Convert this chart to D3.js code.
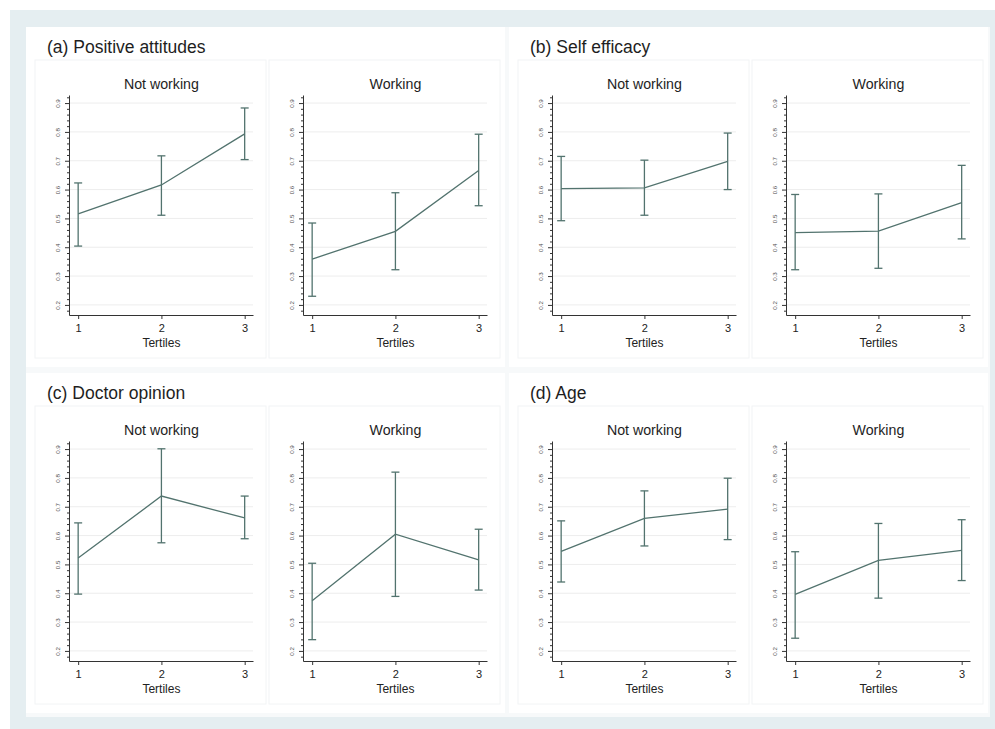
<!DOCTYPE html>
<html>
<head>
<meta charset="utf-8">
<script src="https://cdn.jsdelivr.net/npm/d3@7"></script>
<style>
  html, body { margin: 0; padding: 0; background: #ffffff; }
  svg { display: block; font-family: "Liberation Sans", Arial, Helvetica, sans-serif; }
</style>
</head>
<body>
<svg id="chart" width="995" height="729"></svg>
<script>
// ---------------- data ----------------
const panelTitles = ["(a) Positive attitudes", "(b) Self efficacy", "(c) Doctor opinion", "(d) Age"];
const groupTitles = ["Not working", "Working"];
const tertiles = [1, 2, 3];
const yTickValues = [0.2, 0.3, 0.4, 0.5, 0.6, 0.7, 0.8, 0.9];
const xAxisTitle = "Tertiles";

// per panel (a,b,c,d): values for tertiles 1,2,3
const meanNotWorking  = [[0.516, 0.616, 0.793], [0.603, 0.606, 0.698], [0.522, 0.737, 0.661], [0.545, 0.660, 0.692]];
const lowerNotWorking = [[0.404, 0.511, 0.704], [0.492, 0.511, 0.600], [0.397, 0.575, 0.589], [0.439, 0.564, 0.586]];
const upperNotWorking = [[0.623, 0.717, 0.883], [0.715, 0.702, 0.796], [0.644, 0.901, 0.737], [0.651, 0.755, 0.799]];

const meanWorking  = [[0.359, 0.455, 0.666], [0.451, 0.456, 0.555], [0.374, 0.605, 0.516], [0.396, 0.514, 0.549]];
const lowerWorking = [[0.230, 0.322, 0.544], [0.322, 0.327, 0.429], [0.239, 0.389, 0.411], [0.244, 0.383, 0.444]];
const upperWorking = [[0.484, 0.589, 0.792], [0.583, 0.585, 0.684], [0.504, 0.820, 0.622], [0.544, 0.642, 0.655]];

// ---------------- drawing ----------------
const svg = d3.select("#chart");
const lineColor = "#52736e";
const axisColor = "#333333";
const gridColor = "#ededed";

// outer backgrounds
svg.append("rect").attr("x", 10).attr("y", 10).attr("width", 985).attr("height", 719).attr("fill", "#e5eef1");
svg.append("rect").attr("x", 26).attr("y", 27).attr("width", 964).attr("height", 690).attr("fill", "#f7f9fa");

const minorTicks = d3.range(18, 93, 2).map(v => v / 100).filter(v => Math.round(v * 100) % 10 !== 0);

panelTitles.forEach((title, p) => {
  const col = p % 2, row = Math.floor(p / 2);
  const dx = col * 483, dy = row * 346;

  // panel box
  svg.append("rect").attr("x", 26 + dx).attr("y", 27 + dy).attr("width", 479).attr("height", 340)
    .attr("fill", "#ffffff");

  svg.append("text").attr("x", 47 + dx).attr("y", 53 + dy)
    .attr("font-size", 17.5).attr("fill", "#1e1e1e").text(title);

  groupTitles.forEach((gt, g) => {
    const axisX = 69 + dx + g * 234;
    const means = g === 0 ? meanNotWorking[p] : meanWorking[p];
    const lows = g === 0 ? lowerNotWorking[p] : lowerWorking[p];
    const highs = g === 0 ? upperNotWorking[p] : upperWorking[p];

    // subplot box
    svg.append("rect").attr("x", axisX - 34).attr("y", 60 + dy).attr("width", 231).attr("height", 298)
      .attr("fill", "#ffffff").attr("stroke", "#f2f4f5").attr("stroke-width", 1);

    const x = d3.scaleLinear().domain([0.89, 3.1]).range([axisX, axisX + 184]);
    const y = d3.scaleLinear().domain([0.165, 0.928]).range([315 + dy, 95 + dy]);

    const gEl = svg.append("g");

    // gridlines
    gEl.selectAll("line.grid").data(yTickValues).enter().append("line")
      .attr("x1", axisX).attr("x2", axisX + 184)
      .attr("y1", d => y(d)).attr("y2", d => y(d))
      .attr("stroke", gridColor).attr("stroke-width", 1);

    // minor ticks
    const minorAxis = d3.axisLeft(y).tickValues(minorTicks).tickSize(2).tickSizeOuter(0).tickFormat("");
    const mg = gEl.append("g").attr("transform", `translate(${axisX},0)`).call(minorAxis);
    mg.select(".domain").remove();
    mg.selectAll("line").attr("stroke", axisColor);

    // major y axis
    const yAxis = d3.axisLeft(y).tickValues(yTickValues).tickSize(4).tickSizeOuter(0).tickFormat(d3.format(".1f"));
    const yg = gEl.append("g").attr("transform", `translate(${axisX},0)`).call(yAxis);
    yg.select(".domain").attr("stroke", axisColor);
    yg.selectAll("line").attr("stroke", axisColor);
    yg.selectAll("text")
      .attr("x", null).attr("dy", null)
      .attr("text-anchor", "middle")
      .attr("transform", `translate(-9,0) rotate(-90)`)
      .attr("font-size", 6.2).attr("fill", "#505050")
      .attr("font-family", "\"Liberation Sans\", Arial, sans-serif");

    // x axis
    const xAxis = d3.axisBottom(x).tickValues(tertiles).tickSize(4).tickSizeOuter(0).tickPadding(5).tickFormat(d3.format("d"));
    const xg = gEl.append("g").attr("transform", `translate(0,${315 + dy})`).call(xAxis);
    xg.select(".domain").attr("stroke", axisColor);
    xg.selectAll("line").attr("stroke", axisColor);
    xg.selectAll("text").attr("font-size", 11).attr("fill", "#222")
      .attr("font-family", "\"Liberation Sans\", Arial, sans-serif");

    // titles
    gEl.append("text").attr("x", x(2)).attr("y", 89 + dy).attr("text-anchor", "middle")
      .attr("font-size", 14.2).attr("fill", "#1e1e1e").text(gt);
    gEl.append("text").attr("x", x(2)).attr("y", 347 + dy).attr("text-anchor", "middle")
      .attr("font-size", 12).attr("fill", "#222").text(xAxisTitle);

    // error bars
    const pts = tertiles.map((t, i) => ({ t, m: means[i], lo: lows[i], hi: highs[i] }));
    const eb = gEl.append("g");
    eb.selectAll("line.v").data(pts).enter().append("line")
      .attr("x1", d => x(d.t)).attr("x2", d => x(d.t))
      .attr("y1", d => y(d.lo)).attr("y2", d => y(d.hi))
      .attr("stroke", lineColor).attr("stroke-width", 1.3);
    eb.selectAll("line.capt").data(pts).enter().append("line")
      .attr("x1", d => x(d.t) - 4).attr("x2", d => x(d.t) + 4)
      .attr("y1", d => y(d.hi)).attr("y2", d => y(d.hi))
      .attr("stroke", lineColor).attr("stroke-width", 1.3);
    eb.selectAll("line.capb").data(pts).enter().append("line")
      .attr("x1", d => x(d.t) - 4).attr("x2", d => x(d.t) + 4)
      .attr("y1", d => y(d.lo)).attr("y2", d => y(d.lo))
      .attr("stroke", lineColor).attr("stroke-width", 1.3);

    // mean line
    const line = d3.line().x(d => x(d.t)).y(d => y(d.m));
    gEl.append("path").datum(pts).attr("d", line)
      .attr("fill", "none").attr("stroke", lineColor).attr("stroke-width", 1.3);
  });
});
</script>
</body>
</html>
